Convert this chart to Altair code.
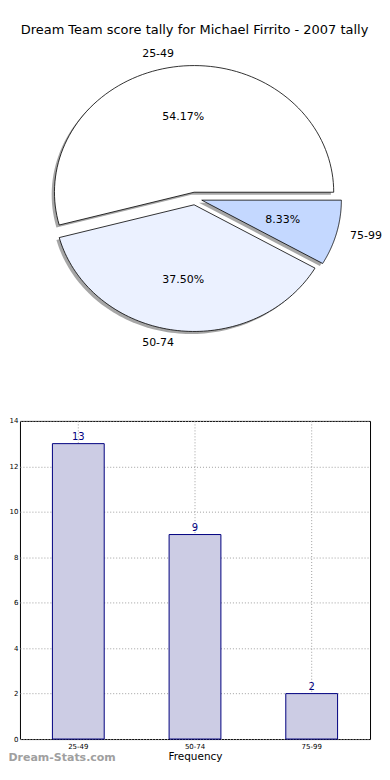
import altair as alt
import pandas as pd

# ---- data ----
ranges = ["25-49", "50-74", "75-99"]
tallies = [13, 9, 2]
slice_order = [1, 2, 3]
slice_colors = ["#ffffff", "#ebf1ff", "#c4d8ff"]
y_ticks = [0, 2, 4, 6, 8, 10, 12, 14]
title_text = "Dream Team score tally for Michael Firrito - 2007 tally"
x_title = "Frequency"
watermark = "Dream-Stats.com"

df = pd.DataFrame({"range": ranges, "tally": tallies, "ord": slice_order})

FONT = "DejaVu Sans"
N = 90          # arc resolution
EXPLODE = 0.05
SHADOW = 0.02

# plot-area geometry (page pixels)
LEFT = 19.5          # left edge of both plot areas
CX, RX = 195, 140    # pie centre x, pixels per unit
PIE_W = 362

# ---- pie (matplotlib-style, drawn in data space so it becomes elliptical) ----
base = alt.Chart(df).transform_joinaggregate(
    total="sum(tally)"
).transform_window(
    cum="sum(tally)", sort=[alt.SortField("ord")], frame=[None, 0]
).transform_calculate(
    t1="2*PI*(datum.cum - datum.tally)/datum.total",
    t2="2*PI*datum.cum/datum.total",
).transform_calculate(
    tm="(datum.t1 + datum.t2)/2",
).transform_calculate(
    ex=f"{EXPLODE}*cos(datum.tm)",
    ey=f"{EXPLODE}*sin(datum.tm)",
    pct="format(100*datum.tally/datum.total, '.2f') + '%'",
)

xs = alt.Scale(domain=[-(CX - LEFT) / RX, (PIE_W - (CX - LEFT)) / RX], nice=False, zero=False)
ys = alt.Scale(domain=[-1.307, 1.2126], nice=False, zero=False)

poly = base.transform_calculate(
    k=f"sequence(0, {N + 2})"
).transform_flatten(["k"]).transform_calculate(
    a=f"datum.t1 + (datum.t2 - datum.t1)*(datum.k - 1)/({N} - 1)",
    edge=f"datum.k == 0 || datum.k == {N + 1} ? 0 : 1",
).transform_calculate(
    px="datum.ex + datum.edge*cos(datum.a)",
    py="datum.ey + datum.edge*sin(datum.a)",
)

shadow = poly.transform_calculate(
    sx=f"datum.px - {SHADOW}", sy=f"datum.py - {SHADOW}"
).mark_line(fill="#4d4d4d", fillOpacity=0.5, strokeWidth=0, interpolate="linear").encode(
    x=alt.X("sx:Q", scale=xs, axis=None),
    y=alt.Y("sy:Q", scale=ys, axis=None),
    detail="range:N",
    order="k:Q",
)

wedges = poly.mark_line(stroke="black", strokeWidth=0.8, interpolate="linear").encode(
    x=alt.X("px:Q", scale=xs, axis=None),
    y=alt.Y("py:Q", scale=ys, axis=None),
    fill=alt.Fill("range:N", scale=alt.Scale(domain=ranges, range=slice_colors), legend=None),
    detail="range:N",
    order="k:Q",
)

lab = base.transform_calculate(
    lx="datum.ex + 1.1*cos(datum.tm)",
    ly="datum.ey + 1.1*sin(datum.tm)",
    qx="datum.ex + 0.6*cos(datum.tm)",
    qy="datum.ey + 0.6*sin(datum.tm)",
)
lab_right = lab.transform_filter("datum.lx < 0").mark_text(
    align="right", baseline="middle", font=FONT, fontSize=11, color="black"
).encode(x=alt.X("lx:Q", scale=xs, axis=None), y=alt.Y("ly:Q", scale=ys, axis=None), text="range:N")
lab_left = lab.transform_filter("datum.lx >= 0").mark_text(
    align="left", baseline="middle", font=FONT, fontSize=11, color="black"
).encode(x=alt.X("lx:Q", scale=xs, axis=None), y=alt.Y("ly:Q", scale=ys, axis=None), text="range:N")
pct = lab.mark_text(
    align="center", baseline="middle", font=FONT, fontSize=11, color="black"
).encode(x=alt.X("qx:Q", scale=xs, axis=None), y=alt.Y("qy:Q", scale=ys, axis=None), text="pct:N")

pie = alt.layer(shadow, wedges, lab_right, lab_left, pct).properties(
    width=PIE_W, height=320,
    title=alt.TitleParams(title_text, font=FONT, fontSize=13, fontWeight="normal",
                          color="black", anchor="middle", offset=8, frame="group",
                          dx=(CX - LEFT) - PIE_W / 2 - 0.5),
    view=alt.ViewBackground(stroke=None),
)

# ---- bar chart ----
grid_style = dict(gridColor="#a0a0a0", gridDash=[1, 2], gridWidth=1)
xb = alt.X("range:N", sort=ranges, title=x_title,
           scale=alt.Scale(paddingInner=0.556, paddingOuter=0.278),
           axis=alt.Axis(labelAngle=0, labelFont=FONT, labelFontSize=7, labelColor="black",
                         titleFont=FONT, titleFontSize=10.5, titleFontWeight="normal",
                         titleColor="black", titlePadding=2, ticks=False, tickSize=0,
                         labelPadding=3, domain=False, grid=True, bandPosition=0.5,
                         **grid_style))
bars = alt.Chart(df).mark_bar(fill="#cccce4", stroke="#000080", strokeWidth=1).encode(
    x=xb,
    y=alt.Y("tally:Q", title=None, scale=alt.Scale(domain=[0, 14], nice=False),
            axis=alt.Axis(values=y_ticks, labelFont=FONT, labelFontSize=7, labelColor="black",
                          ticks=False, tickSize=0, labelPadding=2, domain=False, grid=True,
                          **grid_style)),
)
vals = alt.Chart(df).mark_text(dy=-7, font=FONT, fontSize=10, color="#000080").encode(
    x=alt.X("range:N", sort=ranges), y="tally:Q", text="tally:Q"
)
wm = alt.Chart(pd.DataFrame({"t": [watermark]})).mark_text(
    align="left", baseline="bottom", font=FONT, fontSize=11, fontWeight="bold", color="#a0a0a0"
).encode(x=alt.value(-(LEFT - 8)), y=alt.value(343), text="t:N")

barchart = alt.layer(bars, vals, wm).properties(
    width=351, height=319,
    view=alt.ViewBackground(stroke="black", strokeWidth=1),
)

chart = alt.vconcat(pie, barchart, spacing=52).properties(
    padding={"top": 15, "left": 0, "right": 0, "bottom": 0}
).configure(font=FONT)

chart.save("out.html", embed_options={"renderer": "svg", "actions": False})
